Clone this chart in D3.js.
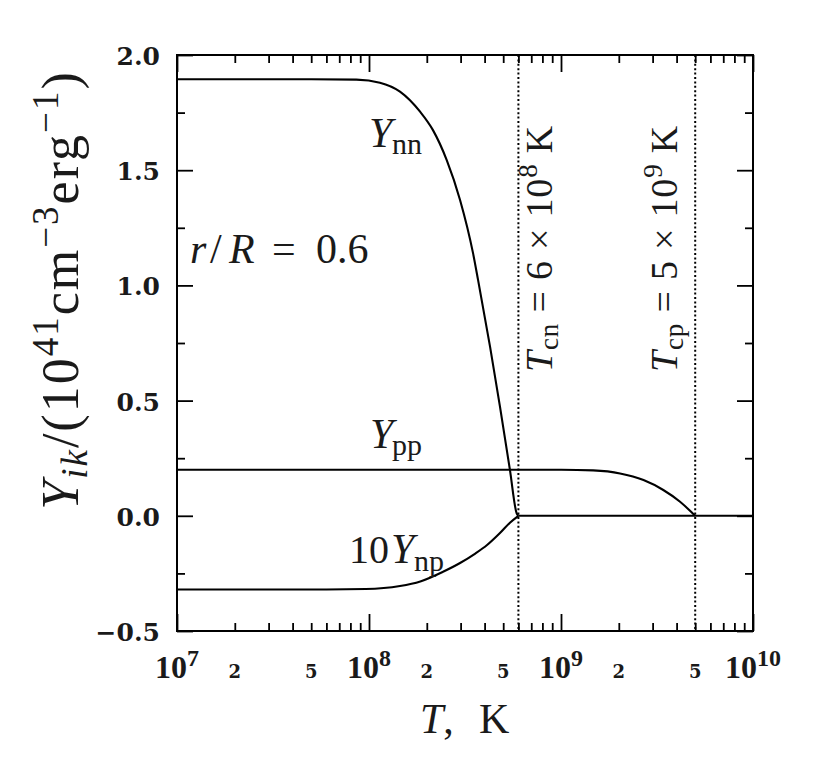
<!DOCTYPE html>
<html><head><meta charset="utf-8">
<script src="https://cdn.jsdelivr.net/npm/d3@7"></script>
<style>
body{margin:0;background:#fff;}
svg text{fill:#1a1a1a;}
</style></head>
<body><svg id="c" width="830" height="760"></svg>
<script>
// ---- data ----
const ynnT   = [1e7, 5e7, 8.6e7, 1.14e8, 1.45e8, 1.845e8, 2.15e8, 2.54e8, 2.98e8, 3.48e8, 3.70e8, 4.27e8, 4.81e8, 5.42e8, 5.87e8, 6e8];
const ynnVal = [1.895, 1.895, 1.893, 1.880, 1.841, 1.754, 1.675, 1.544, 1.371, 1.141, 1.023, 0.734, 0.474, 0.199, 0.012, 0.0];
const yppT   = [1e7, 1e8, 1e9, 1.47e9, 2.03e9, 2.69e9, 3.41e9, 4.17e9, 5e9];
const yppVal = [0.2, 0.2, 0.2, 0.197, 0.184, 0.155, 0.112, 0.061, 0.0];
const ynpT   = [1e7, 5e7, 9.6e7, 1.45e8, 1.85e8, 2.43e8, 2.98e8, 3.56e8, 4.12e8, 4.81e8, 5.42e8, 6e8];
const ynpVal = [-0.32, -0.32, -0.318, -0.305, -0.285, -0.243, -0.205, -0.165, -0.127, -0.075, -0.030, 0.0];
const zeroT   = [6e8, 1e10];
const zeroVal = [0, 0];
const critT  = [6e8, 5e9];           // Tcn, Tcp
const xMajor = [1e7, 1e8, 1e9, 1e10];
const xMajorExp = ["7", "8", "9", "10"];
const xMinorLabeled = [2e7, 5e7, 2e8, 5e8, 2e9, 5e9];
const xMinorText = ["2", "5", "2", "5", "2", "5"];
const yMajor = [-0.5, 0, 0.5, 1.0, 1.5, 2.0];
const yMinor = [-0.25, 0.25, 0.75, 1.25, 1.75];
const yLabels = ["\u22120.5", "0.0", "0.5", "1.0", "1.5", "2.0"];

// ---- layout ----
const L = 177, R = 753, T = 55, B = 631;
const svg = d3.select("#c");
const x = d3.scaleLog().domain([1e7, 1e10]).range([L, R]);
const y = d3.scaleLinear().domain([-0.5, 2.0]).range([B, T]);
const xMinor = x.ticks().filter(v => !xMajor.some(m => Math.abs(m - v) / m < 1e-9));
const F = "'Liberation Serif', 'Times New Roman', Times, serif";
const FB = "'DejaVu Serif', serif";

function tickAxis(axisFn, scale, vals, size, tr) {
  const g = svg.append("g").attr("transform", tr)
    .call(axisFn(scale).tickValues(vals).tickSize(size).tickFormat(""));
  g.select(".domain").remove();
  g.selectAll("line").attr("stroke", "#000").attr("stroke-width", 1.8);
}
tickAxis(d3.axisBottom, x, xMajor, -17, `translate(0,${B})`);
tickAxis(d3.axisBottom, x, xMinor, -8, `translate(0,${B})`);
tickAxis(d3.axisTop, x, xMajor, -17, `translate(0,${T})`);
tickAxis(d3.axisTop, x, xMinor, -8, `translate(0,${T})`);
tickAxis(d3.axisLeft, y, yMajor, -16, `translate(${L},0)`);
tickAxis(d3.axisLeft, y, yMinor, -8, `translate(${L},0)`);
tickAxis(d3.axisRight, y, yMajor, -16, `translate(${R},0)`);
tickAxis(d3.axisRight, y, yMinor, -8, `translate(${R},0)`);

svg.append("rect").attr("x", L).attr("y", T).attr("width", R - L).attr("height", B - T)
  .attr("fill", "none").attr("stroke", "#000").attr("stroke-width", 2);

svg.selectAll("line.crit").data(critT).enter().append("line")
  .attr("x1", d => x(d)).attr("x2", d => x(d)).attr("y1", T).attr("y2", B)
  .attr("stroke", "#000").attr("stroke-width", 2).attr("stroke-dasharray", "2,2.4");

const line = d3.line().x(d => x(d[0])).y(d => y(d[1])).curve(d3.curveMonotoneX);
const zip = (a, b) => a.map((v, i) => [v, b[i]]);
[zip(ynnT, ynnVal), zip(yppT, yppVal), zip(ynpT, ynpVal), zip(zeroT, zeroVal)].forEach(s => {
  svg.append("path").datum(s).attr("d", line)
    .attr("fill", "none").attr("stroke", "#000").attr("stroke-width", 2.1).attr("stroke-linejoin", "round");
});

svg.selectAll("text.yl").data(yMajor).enter().append("text")
  .attr("x", 160).attr("y", d => y(d) + 10)
  .attr("text-anchor", "end").attr("font-family", FB).attr("font-weight", "bold")
  .attr("font-size", 25).text((d, i) => yLabels[i]);

xMajor.forEach((v, i) => {
  const t = svg.append("text").attr("x", x(v)).attr("y", 678).attr("text-anchor", "middle")
    .attr("font-family", F).attr("font-weight", "bold");
  t.append("tspan").attr("font-size", 32).text("10");
  t.append("tspan").attr("font-size", 24).attr("dy", -12).text(xMajorExp[i]);
});
svg.selectAll("text.xm").data(xMinorLabeled).enter().append("text")
  .attr("x", d => x(d)).attr("y", 678).attr("text-anchor", "middle")
  .attr("font-family", FB).attr("font-weight", "bold").attr("font-size", 18)
  .text((d, i) => xMinorText[i]);

{
  const t = svg.append("text").attr("y", 733).attr("font-family", F).attr("font-size", 42);
  t.append("tspan").attr("x", 420).attr("font-style", "italic").text("T");
  t.append("tspan").text(",");
  t.append("tspan").attr("x", 479).text("K");
}
{
  const t = svg.append("text").attr("transform", "translate(78,290) rotate(-90)")
    .attr("text-anchor", "middle").attr("font-family", F).attr("font-size", 52)
    .attr("letter-spacing", 2);
  t.append("tspan").attr("font-style", "italic").text("Y");
  t.append("tspan").attr("font-style", "italic").attr("font-size", 37).attr("dy", 9).text("ik");
  t.append("tspan").attr("dy", -9).text("/(10");
  t.append("tspan").attr("font-size", 37).attr("dy", -20).text("41");
  t.append("tspan").attr("dy", 20).text("cm");
  t.append("tspan").attr("font-size", 37).attr("dy", -20).text("\u22123");
  t.append("tspan").attr("dy", 20).text("erg");
  t.append("tspan").attr("font-size", 37).attr("dy", -20).text("\u22121");
  t.append("tspan").attr("dy", 20).text(")");
}
function subLabel(pre, xpos, base, sub, subx, subdy) {
  const t = svg.append("text").attr("y", base).attr("font-family", F).attr("font-size", 42);
  if (pre) t.append("tspan").attr("x", pre[1]).attr("font-size", 40).text(pre[0]);
  t.append("tspan").attr("x", xpos).attr("font-style", "italic").text("Y");
  t.append("tspan").attr("x", subx).attr("dy", subdy).attr("font-size", 30).text(sub);
}
subLabel(null, 369, 147, "nn", 392, 7);
subLabel(null, 370, 448, "pp", 392, 7);
subLabel(["10", 349], 391, 563, "np", 414, 8);

{
  const t = svg.append("text").attr("y", 263).attr("font-family", F).attr("font-size", 42);
  t.append("tspan").attr("x", 190).attr("font-style", "italic").text("r");
  t.append("tspan").attr("x", 210).text("/");
  t.append("tspan").attr("x", 229).attr("font-style", "italic").text("R");
  t.append("tspan").attr("x", 272).text("=");
  t.append("tspan").attr("x", 316).text("0.6");
}
function critLabel(bx, sub, mant, exp) {
  const t = svg.append("text").attr("transform", `translate(${bx},125) rotate(-90)`)
    .attr("text-anchor", "end").attr("font-family", F).attr("font-size", 38)
    .attr("letter-spacing", 0.8);
  t.append("tspan").attr("font-style", "italic").text("T");
  t.append("tspan").attr("font-size", 27).attr("dy", 6).text(sub);
  t.append("tspan").attr("dy", -6).text(" = " + mant + " \u00d7 10");
  t.append("tspan").attr("font-size", 27).attr("dy", -15).text(exp);
  t.append("tspan").attr("dy", 15).text(" K");
}
critLabel(552, "cn", "6", "8");
critLabel(677, "cp", "5", "9");
</script></body></html>
